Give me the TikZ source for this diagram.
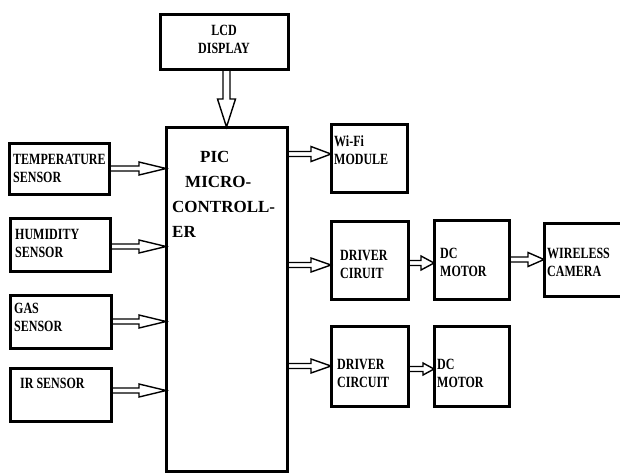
\documentclass[tikz,border=0pt]{standalone}
\usepackage{fontspec}
\setmainfont{Liberation Serif}
\usetikzlibrary{calc}
\pgfdeclarelayer{background}
\pgfsetlayers{background,main}
\newcommand\tall[1]{\scalebox{1}[1.3]{#1}}
\newcommand\harrow[4]{\path[arr] let \p1=#1, \p2=#2 in
  (\x1,\y1+2.5pt) -- (\x2-#3pt,\y1+2.5pt) -- (\x2-#3pt,\y1+#4pt) -- (\x2,\y1)
  -- (\x2-#3pt,\y1-#4pt) -- (\x2-#3pt,\y1-2.5pt) -- (\x1,\y1-2.5pt);}
\newcommand\varrow[4]{\path[arr] let \p1=#1, \p2=#2 in
  (\x1-3.5pt,\y1) -- (\x1-3.5pt,\y2+#3pt) -- (\x1-#4pt,\y2+#3pt) -- (\x1,\y2)
  -- (\x1+#4pt,\y2+#3pt) -- (\x1+3.5pt,\y2+#3pt) -- (\x1+3.5pt,\y1);}
\begin{document}
\begin{tikzpicture}[x=1pt,y=-1pt,
  box/.style={draw, line width=3pt, inner sep=0pt, outer sep=0pt, anchor=north west},
  lbl/.style={font=\bfseries\fontsize{12}{18}\selectfont, align=left, inner sep=0pt, anchor=west},
  arr/.style={draw, line width=1.4pt, fill=white, line join=miter}]
\useasboundingbox (0,0) rectangle (620,475);
\node[box, minimum width=128pt, minimum height=55pt] (lcd) at (160,14) {};
\node[box, minimum width=121pt, minimum height=344pt] (pic) at (166,127) {};
\node[box, minimum width=100pt, minimum height=51pt] (temp) at (9,143) {};
\node[box, minimum width=100pt, minimum height=53pt] (hum) at (10,218) {};
\node[box, minimum width=101pt, minimum height=53pt] (gas) at (10,295) {};
\node[box, minimum width=101pt, minimum height=53pt] (ir) at (10,368) {};
\node[box, minimum width=76pt, minimum height=68pt] (wifi) at (331,124) {};
\node[box, minimum width=77pt, minimum height=78pt] (drv1) at (331,221) {};
\node[box, minimum width=75pt, minimum height=79pt] (dc1) at (434,220) {};
\node[box, minimum width=80pt, minimum height=73pt] (cam) at (544,223) {};
\node[box, minimum width=77pt, minimum height=80pt] (drv2) at (331,326) {};
\node[box, minimum width=75pt, minimum height=80pt] (dc2) at (434,326) {};

\node[lbl, align=center, anchor=center] (lcdT) at (224,39) {\tall{LCD}\\\tall{DISPLAY}};
\node[lbl] (tempT) at (13,168) {\tall{TEMPERATURE}\\\tall{SENSOR}};
\node[lbl] (humT) at (15,243) {\tall{HUMIDITY}\\\tall{SENSOR}};
\node[lbl] (gasT) at (14,317) {\tall{GAS}\\\tall{SENSOR}};
\node[lbl] (irT) at (20,383) {\tall{IR SENSOR}};
\node[lbl] (wifiT) at (334,150) {\tall{Wi-Fi}\\\tall{MODULE}};
\node[lbl] (drv1T) at (340,264) {\tall{DRIVER}\\\tall{CIRUIT}};
\node[lbl] (dc1T) at (440,262) {\tall{DC}\\\tall{MOTOR}};
\node[lbl] (camT) at (547,262) {\tall{WIRELESS}\\\tall{CAMERA}};
\node[lbl] (drv2T) at (337,373) {\tall{DRIVER}\\\tall{CIRCUIT}};
\node[lbl] (dc2T) at (437,373) {\tall{DC}\\\tall{MOTOR}};
\node[lbl, font=\bfseries\fontsize{17}{25}\selectfont] (picT) at (172,194)
  {\hspace*{28pt}PIC\\\hspace*{13pt}MICRO-\\CONTROLL-\\ER};

\begin{pgfonlayer}{background}
\varrow{(lcd.south -| pic.north)}{(pic.north)}{28}{9}
\harrow{(temp.east)}{(temp.east -| pic.west)}{27}{6.5}
\harrow{([yshift=-2pt]hum.east)}{([yshift=-2pt]hum.east -| pic.west)}{27}{6.5}
\harrow{(gas.east)}{(gas.east -| pic.west)}{27}{6.5}
\harrow{([yshift=4pt]ir.east)}{([yshift=4pt]ir.east -| pic.west)}{27}{6.5}
\harrow{([yshift=4pt]wifi.west -| pic.east)}{([yshift=4pt]wifi.west)}{20}{7.5}
\harrow{([yshift=-5pt]drv1.west -| pic.east)}{([yshift=-5pt]drv1.west)}{20}{7}
\harrow{([yshift=-3pt]drv1.east)}{([yshift=-3pt]drv1.east -| dc1.west)}{13}{7}
\harrow{(dc1.east |- cam.west)}{(cam.west)}{16}{7}
\harrow{(drv2.west -| pic.east)}{(drv2.west)}{20}{7}
\harrow{([yshift=-3pt]drv2.east)}{([yshift=-3pt]drv2.east -| dc2.west)}{11}{6}
\end{pgfonlayer}
\end{tikzpicture}
\end{document}
